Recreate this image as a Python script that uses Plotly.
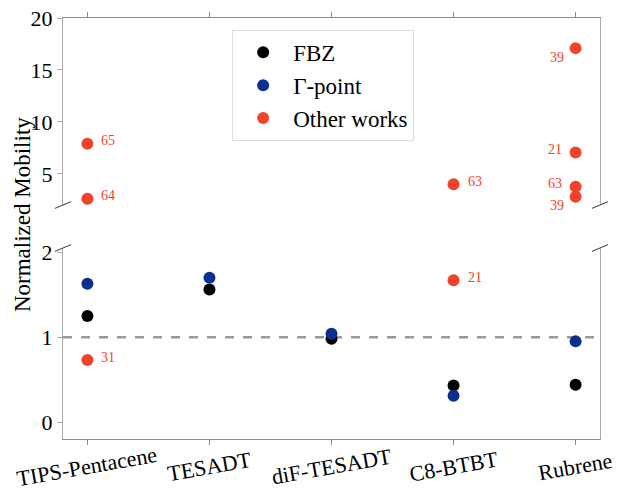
import plotly.graph_objects as go

categories = ["TIPS-Pentacene", "TESADT", "diF-TESADT", "C8-BTBT", "Rubrene"]
fbz = [1.25, 1.56, 0.98, 0.43, 0.44]
gamma = [1.63, 1.70, 1.04, 0.31, 0.95]

# Other works: (category, value, reference)
other_cat = ["TIPS-Pentacene", "TIPS-Pentacene", "TIPS-Pentacene", "C8-BTBT", "C8-BTBT",
             "Rubrene", "Rubrene", "Rubrene", "Rubrene"]
other_val = [7.9, 2.6, 0.73, 4.0, 1.67, 17.1, 7.05, 3.75, 2.8]
other_ref = ["65", "64", "31", "63", "21", "39", "21", "63", "39"]
label_pos = ["right", "right", "right", "right", "right", "belowleft", "left", "left", "belowleft"]

BREAK_LOW = 2.05
C_FBZ = "#000000"
C_GAM = "#0b2f8f"
C_OTH = "#f0432b"
FONT = "Liberation Serif"
AX = "#8a8a8a"
AXL = "#aaaaaa"

xi = {c: i for i, c in enumerate(categories)}
fig = go.Figure()

def add(x, y, color, name, show):
    lo = [(a, b) for a, b in zip(x, y) if b <= BREAK_LOW]
    hi = [(a, b) for a, b in zip(x, y) if b > BREAK_LOW]
    fig.add_trace(go.Scatter(x=[xi[a] for a, _ in lo], y=[b for _, b in lo], mode="markers",
                             marker=dict(color=color, size=12), name=name, showlegend=show,
                             legendgroup=name, xaxis="x", yaxis="y"))
    if hi:
        fig.add_trace(go.Scatter(x=[xi[a] for a, _ in hi], y=[b for _, b in hi], mode="markers",
                                 marker=dict(color=color, size=12), name=name, showlegend=False,
                                 legendgroup=name, xaxis="x2", yaxis="y2"))

add(categories, fbz, C_FBZ, "FBZ", True)
add(categories, gamma, C_GAM, "Γ-point", True)
add(other_cat, other_val, C_OTH, "Other works", True)

# reference labels
for c, v, r, p in zip(other_cat, other_val, other_ref, label_pos):
    hi = v > BREAK_LOW
    if p == "right":
        xs, ys, xa = 12, 3, "left"
    elif p == "left":
        xs, ys, xa = -12, 3, "right"
    else:
        xs, ys, xa = -10, -9, "right"
    fig.add_annotation(x=xi[c], y=v, xref="x2" if hi else "x", yref="y2" if hi else "y",
                       text=r, showarrow=False, xanchor=xa, yanchor="middle",
                       xshift=xs, yshift=ys, font=dict(family=FONT, size=14, color=C_OTH))

# category labels (rotated, centred under ticks)
for c in categories:
    fig.add_annotation(x=xi[c], y=-0.066, xref="x", yref="paper", text=c, showarrow=False,
                       textangle=-10, xanchor="center", yanchor="middle",
                       font=dict(family=FONT, size=22, color="black"))

# dashed reference line at 1
fig.add_shape(type="line", xref="x domain", yref="y", x0=0, x1=1, y0=1, y1=1,
              line=dict(color="#999999", width=2.5, dash="dash"), layer="below")

# broken-axis marks
for xd in (0, 1):
    for yd in (0.4537, 0.5558):
        fig.add_shape(type="line", xref="paper", yref="paper", x0=xd - 0.015, x1=xd + 0.015,
                      y0=yd - 0.008, y1=yd + 0.008, line=dict(color="#333", width=1))

fig.add_annotation(text="Normalized Mobility", xref="paper", yref="paper", x=-0.0763, y=0.532,
                   xanchor="center", yanchor="middle",
                   textangle=-90, showarrow=False, font=dict(family=FONT, size=23, color="black"))

tickfont = dict(family=FONT, size=22, color="black")
common = dict(showgrid=False, zeroline=False, automargin=False, ticks="outside", ticklen=5,
              showline=True, linewidth=1.2)
fig.update_layout(
    width=618, height=497, plot_bgcolor="white", paper_bgcolor="white",
    margin=dict(l=63, r=18, t=18, b=58, autoexpand=False),
    xaxis=dict(domain=[0, 1], range=[-0.2, 4.2], tickvals=list(range(len(categories))),
               showticklabels=False, tickcolor=AX, linecolor=AX, anchor="y", **common),
    yaxis=dict(domain=[0, 0.4537], range=[-0.2, 2.05], tickvals=[0, 1, 2],
               tickcolor=AXL, linecolor=AXL, mirror=True, tickfont=tickfont, anchor="x", **common),
    xaxis2=dict(domain=[0, 1], range=[-0.2, 4.2], tickvals=list(range(len(categories))),
                showticklabels=False, tickcolor=AX, side="top", linecolor=AX,
                anchor="y2", matches="x", **common),
    yaxis2=dict(domain=[0.5558, 1], range=[2, 20], tickvals=[5, 10, 15, 20],
                tickcolor=AXL, linecolor=AXL, mirror=True, tickfont=tickfont, anchor="x2", **common),
    legend=dict(x=0.315, y=0.972, xanchor="left", yanchor="top", bgcolor="white",
                bordercolor="#dddddd", borderwidth=1, font=dict(family=FONT, size=23, color="black"),
                itemsizing="constant", itemwidth=50, traceorder="grouped", tracegroupgap=0),
    showlegend=True,
)

fig.write_html("out.html")
